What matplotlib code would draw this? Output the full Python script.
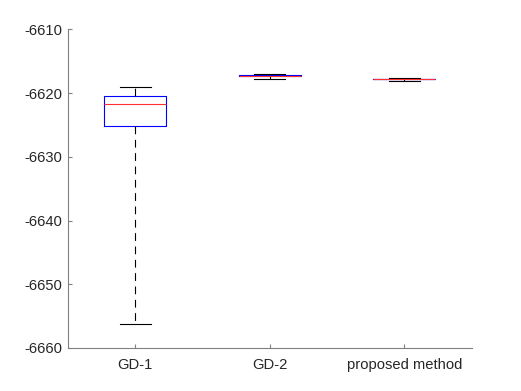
import matplotlib
matplotlib.use("Agg")
import matplotlib.pyplot as plt

plt.rcParams["font.family"] = ["Liberation Sans", "DejaVu Sans"]
plt.rcParams["axes.unicode_minus"] = False

# Box statistics
labels = ["GD-1", "GD-2", "proposed method"]
medians = [-6621.7, -6617.27, -6617.76]
q1 = [-6625.1, -6617.33, -6617.8]
q3 = [-6620.4, -6617.2, -6617.72]
whis_lo = [-6656.2, -6617.8, -6618.05]
whis_hi = [-6619.1, -6617.07, -6617.62]

stats = []
for lab, med, lo, hi, wl, wh in zip(labels, medians, q1, q3, whis_lo, whis_hi):
    stats.append({"label": lab, "med": med, "q1": lo, "q3": hi,
                  "whislo": wl, "whishi": wh, "fliers": []})

fig = plt.figure(figsize=(5.21, 3.91), dpi=100)
ax = fig.add_axes([0.13, 0.11, 0.775, 0.815])

ax.bxp(stats, positions=[1, 2, 3], widths=0.46, showfliers=False,
       boxprops=dict(color="blue", linewidth=0.8),
       medianprops=dict(color="#ff3030", linewidth=0.8),
       whiskerprops=dict(color="black", linewidth=0.8, linestyle=(0, (7, 5))),
       capprops=dict(color="black", linewidth=0.8), capwidths=0.23)

ax.set_xlim(0.5, 3.5)
ax.set_ylim(-6660, -6610)
ax.set_yticks(range(-6660, -6609, 10))
ax.set_xticks([1, 2, 3])
ax.set_xticklabels(labels)

for s in ["top", "right"]:
    ax.spines[s].set_visible(False)
for s in ["left", "bottom"]:
    ax.spines[s].set_color("#808080")
    ax.spines[s].set_linewidth(0.8)
ax.tick_params(direction="in", length=3, color="#808080", labelsize=10.6,
               labelcolor="#262626")
ax.tick_params(axis="x", pad=7)
ax.tick_params(axis="y", pad=4)

fig.savefig("out.png", dpi=100)
